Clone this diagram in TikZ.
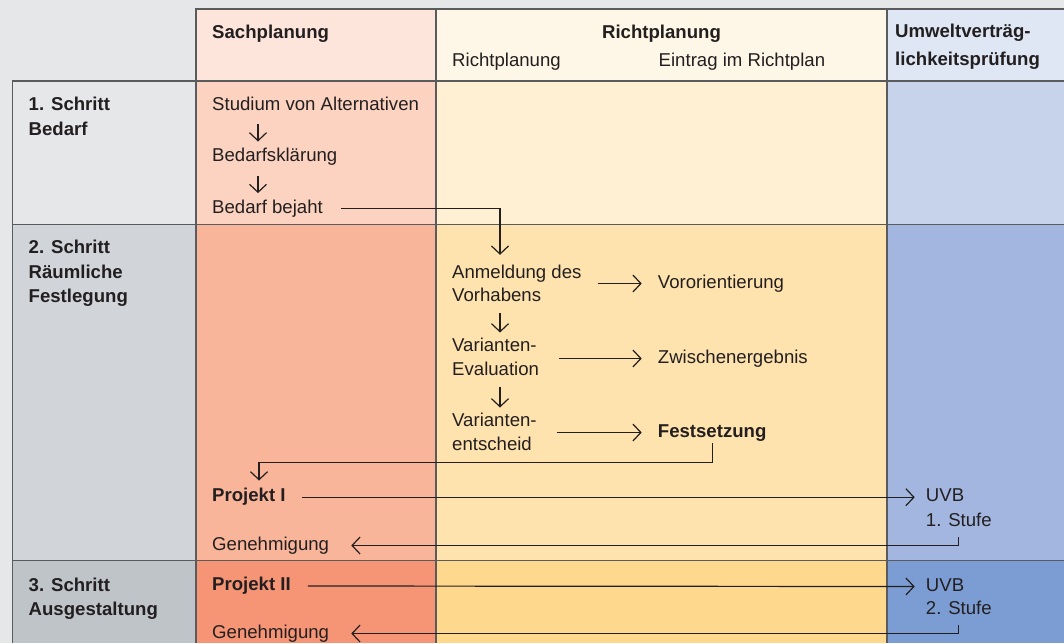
\documentclass[tikz,border=0pt]{standalone}
\usepackage{fontspec}
\setmainfont{Liberation Sans}
\usetikzlibrary{arrows.meta}

\definecolor{ink}{HTML}{231F20}
\definecolor{rule}{HTML}{5A5B5D}
\definecolor{paper}{HTML}{E6E7E9}
\definecolor{sachHead}{HTML}{FDE5DB}
\definecolor{richtHead}{HTML}{FEF6E6}
\definecolor{uvpHead}{HTML}{DFE6F4}
\definecolor{stepOne}{HTML}{E6E7E9}
\definecolor{sachOne}{HTML}{FCD3C0}
\definecolor{richtOne}{HTML}{FFEFD3}
\definecolor{uvpOne}{HTML}{C6D3EA}
\definecolor{stepTwo}{HTML}{D1D5D9}
\definecolor{sachTwo}{HTML}{F9B59A}
\definecolor{richtTwo}{HTML}{FFE3AE}
\definecolor{uvpTwo}{HTML}{A3B6DF}
\definecolor{stepThree}{HTML}{BFC4C9}
\definecolor{sachThree}{HTML}{F59576}
\definecolor{richtThree}{HTML}{FED88D}
\definecolor{uvpThree}{HTML}{7C9DD3}

\newcommand\dgfont{\fontsize{18.6}{22}\selectfont}

\tikzset{
  lbl/.style={anchor=base west, inner sep=0pt, text height=13pt, text depth=4pt, font=\dgfont, text=ink},
  bold/.style={lbl, font=\dgfont\bfseries},
  arr/.style={draw=ink, line width=1.2pt, -{Straight Barb[length=8pt,width=17pt]}},
  grid/.style={draw=rule, line width=1.2pt}
}

\begin{document}
\begin{tikzpicture}[x=1pt,y=-1pt]
    \useasboundingbox (0,0) rectangle (1064,643);
    \fill[paper] (0,0) rectangle (1064,643);
    % cells
    \fill[sachHead] (196,9) rectangle (436,81);
    \fill[richtHead] (436,9) rectangle (887,81);
    \fill[uvpHead] (887,9) rectangle (1064,81);
    \fill[stepOne] (12.7,81) rectangle (196,224.5);
    \fill[sachOne] (196,81) rectangle (436,224.5);
    \fill[richtOne] (436,81) rectangle (887,224.5);
    \fill[uvpOne] (887,81) rectangle (1064,224.5);
    \fill[stepTwo] (12.7,224.5) rectangle (196,560.7);
    \fill[sachTwo] (196,224.5) rectangle (436,560.7);
    \fill[richtTwo] (436,224.5) rectangle (887,560.7);
    \fill[uvpTwo] (887,224.5) rectangle (1064,560.7);
    \fill[stepThree] (12.7,560.7) rectangle (196,643);
    \fill[sachThree] (196,560.7) rectangle (436,643);
    \fill[richtThree] (436,560.7) rectangle (887,643);
    \fill[uvpThree] (887,560.7) rectangle (1064,643);
    % grid
    \draw[grid] (196,643) -- (196,9) -- (1064,9);
    \draw[grid] (436,9) -- (436,643);
    \draw[grid] (887,9) -- (887,643);
    \draw[grid] (12.7,643) -- (12.7,81) -- (1064,81);
    \draw[grid] (12.7,224.5) -- (1064,224.5);
    \draw[grid] (12.7,560.7) -- (1064,560.7);

    % header
    \node[bold] (sachhead) at (212,38.5) {Sachplanung};
    \node[bold, anchor=base] (richthead) at (661.5,38.5) {Richtplanung};
    \node[lbl] (richtsub) at (452,66.5) {Richtplanung};
    \node[lbl] (eintrag) at (658.5,66.5) {Eintrag im Richtplan};
    \node[bold] (uvpa) at (895,37) {Umweltverträg-};
    \node[bold] (uvpb) at (895,65.5) {lichkeitsprüfung};

    % steps
    \node[bold] (s1a) at (28.5,110) {1. Schritt};
    \node[bold] (s1b) at (28.5,135) {Bedarf};
    \node[bold] (s2a) at (28.5,253) {2. Schritt};
    \node[bold] (s2b) at (28.5,278) {Räumliche};
    \node[bold] (s2c) at (28.5,302) {Festlegung};
    \node[bold] (s3a) at (28.5,591) {3. Schritt};
    \node[bold] (s3b) at (28.5,615) {Ausgestaltung};

    % Sachplanung
    \node[lbl] (stud) at (212,110) {Studium von Alternativen};
    \node[lbl] (bedk) at (212,161.7) {Bedarfsklärung};
    \node[lbl] (bej) at (212,213.3) {Bedarf bejaht};
    \node[bold] (proj1) at (212,501.7) {Projekt I};
    \node[lbl] (gen1) at (212,550) {Genehmigung};
    \node[bold] (proj2) at (212,590.5) {Projekt II};
    \node[lbl] (gen2) at (212,638) {Genehmigung};

    % Richtplanung
    \node[lbl] (anm) at (452,278) {Anmeldung des};
    \node[lbl] (vorh) at (452,301.7) {Vorhabens};
    \node[lbl] (var1) at (452,351.7) {Varianten-};
    \node[lbl] (eval) at (452,375) {Evaluation};
    \node[lbl] (var2) at (452,426.7) {Varianten-};
    \node[lbl] (ents) at (452,450) {entscheid};
    \node[lbl] (voro) at (657.7,288) {Vororientierung};
    \node[lbl] (zwis) at (657.7,363) {Zwischenergebnis};
    \node[bold] (fest) at (657.7,437) {Festsetzung};

    % UVP
    \node[lbl] (uvb1) at (925.7,501.7) {UVB};
    \node[lbl] (stufe1) at (925.7,526) {1. Stufe};
    \node[lbl] (uvb2) at (925.7,591) {UVB};
    \node[lbl] (stufe2) at (925.7,614) {2. Stufe};

    % arrows
    \draw[arr] ([xshift=46pt,yshift=-10pt]stud.south west) -- ([xshift=46pt,yshift=7pt]bedk.north west);
    \draw[arr] ([xshift=46pt,yshift=-10pt]bedk.south west) -- ([xshift=46pt,yshift=7pt]bej.north west);
    \draw[arr] ([xshift=18pt]bej.east) -| ([xshift=48pt,yshift=10pt]anm.north west);
    \draw[arr] ([xshift=48pt,yshift=-7pt]vorh.south west) -- ([xshift=48pt,yshift=6pt]var1.north west);
    \draw[arr] ([xshift=48pt,yshift=-8pt]eval.south west) -- ([xshift=48pt,yshift=6pt]var2.north west);
    \draw[arr] ([xshift=16pt]anm.east |- voro.west) -- ([xshift=-16pt]voro.west);
    \draw[arr] ([xshift=20pt]eval.east |- zwis.west) -- ([xshift=-16pt]zwis.west);
    \draw[arr] ([xshift=20pt]var2.east |- fest.west) -- ([xshift=-16pt]fest.west);
    \draw[arr] ([yshift=-2pt]fest.south) -- ++(0,19) -| ([xshift=47pt,yshift=8pt]proj1.north west);
    \draw[arr] ([xshift=16pt]proj1.east) -- ([xshift=-11pt]uvb1.west);
    \draw[arr] ([yshift=-7pt]stufe1.south) |- ([xshift=22pt]gen1.east);
    \draw[arr] ([xshift=17pt]proj2.east) -- ([xshift=-11pt]uvb2.west);
    \draw[arr] ([yshift=-7pt]stufe2.south) |- ([xshift=22pt]gen2.east);
\end{tikzpicture}
\end{document}
